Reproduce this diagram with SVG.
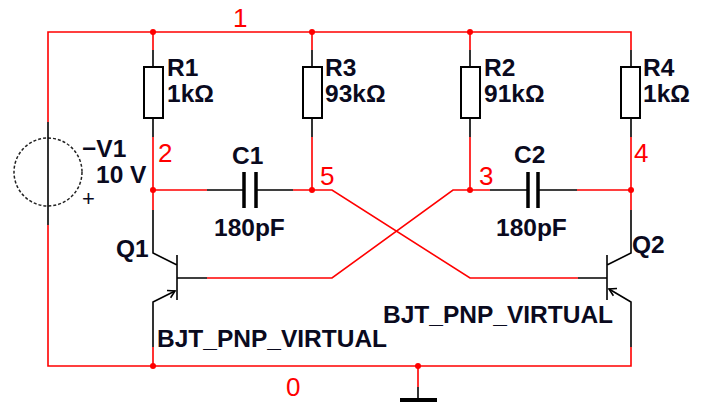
<svg xmlns="http://www.w3.org/2000/svg" width="705" height="407" viewBox="0 0 705 407">
<style>
.w{stroke:#ff0000;stroke-width:1.6;fill:none}
.k{stroke:#000;stroke-width:1.6;fill:none}
.box{stroke:#000;stroke-width:2;fill:#fff}
.plate{stroke:#000;stroke-width:3.5}
.dot{fill:#ff0000}
.t{font-family:"Liberation Sans",Arial,sans-serif;font-size:24.5px;font-weight:bold;fill:#0a0a1e}
.n{font-family:"Liberation Sans",Arial,sans-serif;font-size:26px;fill:#ff0000}
</style>
<rect width="705" height="407" fill="#fff"/>
<g id="connectors">
<path class="w" d="M48,122 V32 H631 V50"/>
<path class="w" d="M48,225 V366 H631 V347"/>
<path class="w" d="M153,32 V50 M153,137 V210 M312,32 V50 M312,137 V190 M470,32 V50 M470,137 V190 M631,137 V210"/>
<path class="w" d="M153,190 H207 M293,190 H332 L470,278 H578"/>
<path class="w" d="M490,190 H470 M577,190 H631"/>
<path class="w" d="M470,190 H453 L332,278 H207"/>
<path class="w" d="M153,347 V366 M418,366 V387"/>
<circle class="dot" cx="153" cy="32" r="3"/>
<circle class="dot" cx="312" cy="32" r="3"/>
<circle class="dot" cx="470" cy="32" r="3"/>
<circle class="dot" cx="153" cy="190" r="3"/>
<circle class="dot" cx="312" cy="190" r="3"/>
<circle class="dot" cx="470" cy="190" r="3"/>
<circle class="dot" cx="631" cy="190" r="3"/>
<circle class="dot" cx="153" cy="366" r="3"/>
<circle class="dot" cx="418" cy="366" r="3"/>
</g>
<g id="V1">
<circle cx="48" cy="172" r="34" fill="none" stroke="#222" stroke-width="1.5" stroke-dasharray="3 2"/>
<path class="k" d="M48,122 V225"/>
<text class="t" x="82" y="157">−V1</text>
<text class="t" x="96" y="183">10 V</text>
<text class="t" x="82" y="206" style="font-size:22px;font-weight:normal">+</text>
</g>
<g id="R1">
<path class="k" d="M153,50 V67 M153,118 V137"/>
<rect class="box" x="144" y="67" width="19" height="51"/>
<text class="t" x="167" y="76">R1</text>
<text class="t" x="167" y="102">1kΩ</text>
</g>
<g id="R3">
<path class="k" d="M312,50 V67 M312,118 V137"/>
<rect class="box" x="303" y="67" width="19" height="51"/>
<text class="t" x="325" y="76">R3</text>
<text class="t" x="325" y="102">93kΩ</text>
</g>
<g id="R2">
<path class="k" d="M470,50 V67 M470,118 V137"/>
<rect class="box" x="461" y="67" width="19" height="51"/>
<text class="t" x="484" y="76">R2</text>
<text class="t" x="484" y="102">91kΩ</text>
</g>
<g id="R4">
<path class="k" d="M631,50 V67 M631,118 V137"/>
<rect class="box" x="621" y="67" width="19" height="51"/>
<text class="t" x="643" y="76">R4</text>
<text class="t" x="643" y="102">1kΩ</text>
</g>
<g id="C1">
<path class="k" d="M207,190 H243 M257,190 H293"/>
<path class="plate" d="M244,172 V208 M256,172 V208"/>
<text class="t" x="232" y="164">C1</text>
<text class="t" x="214" y="236">180pF</text>
</g>
<g id="C2">
<path class="k" d="M490,190 H527 M539,190 H577"/>
<path class="plate" d="M528,172 V208 M538,172 V208"/>
<text class="t" x="514" y="163">C2</text>
<text class="t" x="496" y="236">180pF</text>
</g>
<g id="Q1">
<path class="k" d="M153,210 V253 L177,265 M177,255 V300 M177,278 H207 M175,291 L153,302 V347"/>
<path class="k" d="M167,290.5 L175,291 L170.6,297.7"/>
<text class="t" x="116" y="257">Q1</text>
<text class="t" x="157" y="347">BJT_PNP_VIRTUAL</text>
</g>
<g id="Q2">
<path class="k" d="M631,210 V253 L607,265 M607,255 V300 M607,278 H578 M609,289 L631,302 V347"/>
<path class="k" d="M613.4,295.7 L609,289 L617,288.5"/>
<text class="t" x="632" y="253">Q2</text>
<text class="t" x="383" y="323">BJT_PNP_VIRTUAL</text>
</g>
<g id="GND">
<path class="k" d="M418,387 V400"/>
<path d="M400,400 H437" stroke="#000" stroke-width="4"/>
</g>
<g id="labels">
<text class="n" x="233" y="27">1</text>
<text class="n" x="158" y="162">2</text>
<text class="n" x="479" y="185">3</text>
<text class="n" x="634" y="162">4</text>
<text class="n" x="320" y="185">5</text>
<text class="n" x="286" y="396">0</text>
</g>
</svg>
